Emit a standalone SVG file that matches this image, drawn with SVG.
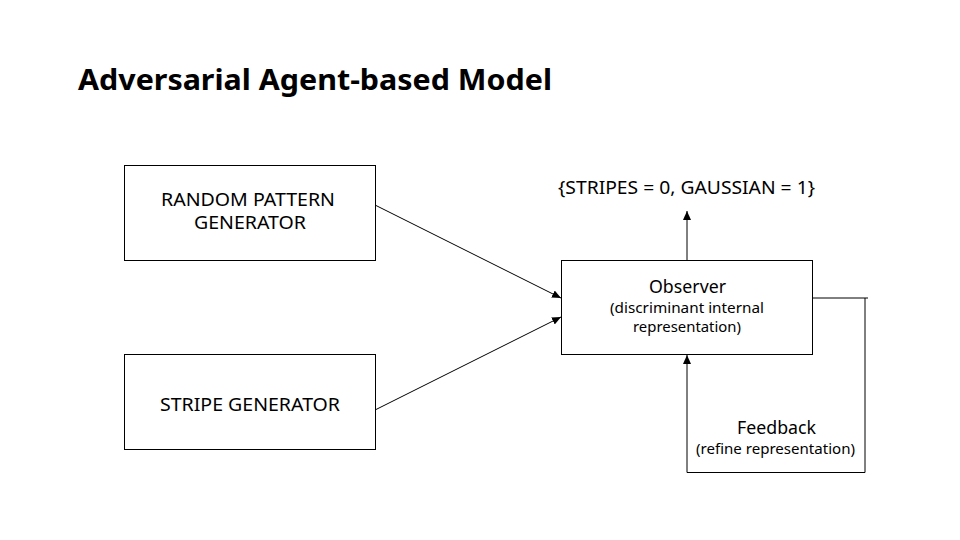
<svg xmlns="http://www.w3.org/2000/svg" width="960" height="540" viewBox="0 0 960 540">
<style>
.box{fill:#fff;stroke:#000;stroke-width:1}
.t{font-family:"Noto Sans","Open Sans",sans-serif;fill:#000;text-anchor:middle}
.l{font-size:18px}
.s{font-size:13.5px}
.c{fill:none;stroke:#000;stroke-width:1}
</style>
<defs>
<marker id="ah" markerWidth="10" markerHeight="10" refX="9" refY="5" orient="auto" markerUnits="userSpaceOnUse">
<path d="M0,1 L9,5 L0,9 Z" fill="#000"/>
</marker>
</defs>
<rect width="960" height="540" fill="#fff"/>
<text x="78" y="90" font-family="'Noto Sans','Open Sans',sans-serif" font-weight="bold" font-size="29" fill="#000" textLength="474" lengthAdjust="spacingAndGlyphs">Adversarial Agent-based Model</text>
<g id="connectors">
<line class="c" x1="375" y1="205" x2="561" y2="298" marker-end="url(#ah)"/>
<line class="c" x1="375" y1="410" x2="561" y2="317" marker-end="url(#ah)"/>
<line class="c" x1="687" y1="260" x2="687" y2="211" marker-end="url(#ah)"/>
<polyline class="c" points="812,298 868,298"/>
<polyline class="c" points="865,298 865,472.5 687,472.5 687,355" marker-end="url(#ah)"/>
</g>
<g id="random">
<rect class="box" x="124.5" y="165.5" width="251" height="95"/>
<text class="t l" x="248" y="206" textLength="174" lengthAdjust="spacingAndGlyphs">RANDOM PATTERN</text>
<text class="t l" x="250" y="229" textLength="112" lengthAdjust="spacingAndGlyphs">GENERATOR</text>
</g>
<g id="stripe">
<rect class="box" x="124.5" y="354.5" width="251" height="95"/>
<text class="t l" x="250" y="411" textLength="180" lengthAdjust="spacingAndGlyphs">STRIPE GENERATOR</text>
</g>
<g id="observer">
<rect class="box" x="561.5" y="260.5" width="251" height="94"/>
<text class="t l" x="687.5" y="293" textLength="77" lengthAdjust="spacingAndGlyphs">Observer</text>
<text class="t s" x="687" y="313" textLength="154" lengthAdjust="spacingAndGlyphs">(discriminant internal</text>
<text class="t s" x="687" y="332" textLength="108" lengthAdjust="spacingAndGlyphs">representation)</text>
</g>
<g id="output">
<text class="t l" x="686.5" y="194" textLength="257" lengthAdjust="spacingAndGlyphs">{STRIPES = 0, GAUSSIAN = 1}</text>
</g>
<g id="feedback">
<text class="t l" x="776.5" y="434" textLength="79" lengthAdjust="spacingAndGlyphs">Feedback</text>
<text class="t s" x="775.5" y="454" textLength="159" lengthAdjust="spacingAndGlyphs">(refine representation)</text>
</g>
</svg>
